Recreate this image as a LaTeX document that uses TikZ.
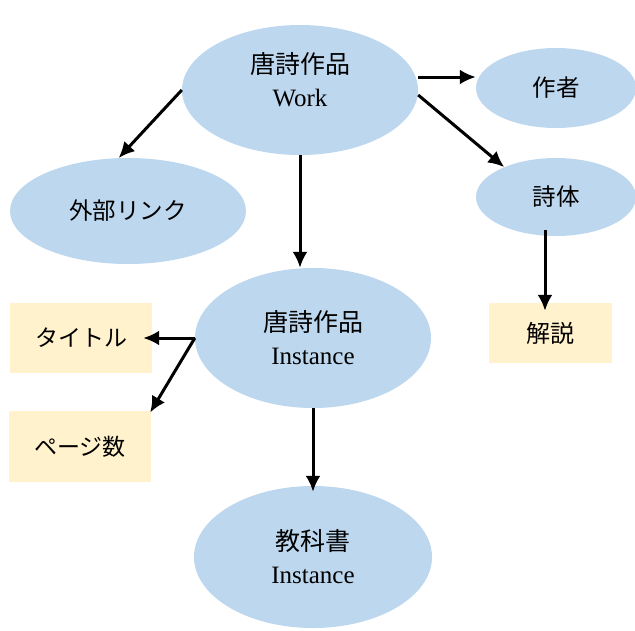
\documentclass[tikz,border=0pt]{standalone}
\usepackage{fontspec}
\setmainfont{Liberation Serif}
\newfontfamily\jp{Noto Sans CJK JP}
\usetikzlibrary{shapes.geometric,arrows.meta,positioning}
\definecolor{entblue}{HTML}{BDD7EE}
\definecolor{attryellow}{HTML}{FFF2CC}

\begin{document}
\begin{tikzpicture}[
    x=1pt, y=-1pt,
    >={Latex[length=16pt,width=15pt]},
    ent/.style={ellipse, fill=entblue, inner sep=0pt, align=center, font=\fontsize{25}{33}\selectfont},
    entsmall/.style={ent, font=\jp\fontsize{23.5}{26}\selectfont},
    attr/.style={rectangle, fill=attryellow, inner sep=0pt, font=\jp\fontsize{23}{26}\selectfont},
    conn/.style={->, line width=3pt}
]
  \useasboundingbox (0,0) rectangle (635,630);

  % Werk und Instanzen
  \node[ent, minimum width=236pt, minimum height=130pt, text depth=22pt] (work) at (300,90) {{\jp 唐詩作品}\\Work};
  \node[ent, minimum width=236pt, minimum height=140pt] (inst) at (313,338) {{\jp 唐詩作品}\\Instance};
  \node[ent, minimum width=238pt, minimum height=142pt] (textbook) at (313,557) {{\jp 教科書}\\Instance};

  % Nebenknoten
  \node[entsmall, minimum width=236pt, minimum height=106pt] (extlink) at (128,211) {外部リンク};
  \node[entsmall, minimum width=160pt, minimum height=80pt] (author) at (556,88) {作者};
  \node[entsmall, minimum width=160pt, minimum height=78pt] (form) at (556,197) {詩体};

  % Attribute
  \node[attr, minimum width=142pt, minimum height=70pt] (title) at (81,338) {タイトル};
  \node[attr, minimum width=142pt, minimum height=71pt] (pages) at (80,446.5) {ページ数};
  \node[attr, minimum width=123pt, minimum height=60pt, font=\jp\fontsize{24}{26}\selectfont] (note) at (550.5,333) {解説};

  % Verbindungen
  \coordinate (wa) at ([yshift=13pt]work.east);
  \coordinate (fs) at ([xshift=-11pt,yshift=6pt]form.south);
  \draw[conn] (work.west) -- (extlink.100);
  \draw[conn] (work.south) -- (work.south |- inst.north);
  \draw[conn] (wa) -- (wa -| author.west);
  \draw[conn] ([yshift=-5pt]work.east) -- (form.150);
  \draw[conn, shorten >=-8pt] (fs) -- (fs |- note.north);
  \draw[conn, shorten >=-9pt] (inst.west) -- (title.east);
  \draw[conn, shorten >=-2pt] (inst.west) -- (pages.north east);
  \draw[conn, shorten >=-6pt] (inst.south) -- (textbook.north);

\end{tikzpicture}
\end{document}
